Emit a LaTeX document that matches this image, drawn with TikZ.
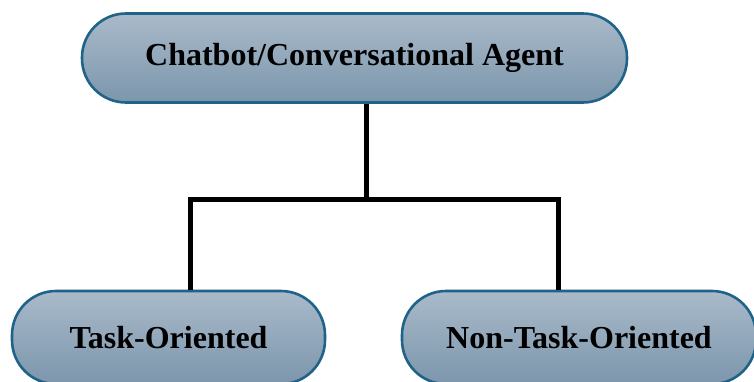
\documentclass[tikz,border=0pt]{standalone}
\usepackage{fontspec}
\setmainfont{Liberation Serif}
\begin{document}
\begin{tikzpicture}[x=1pt,y=-1pt,
  pill/.style={draw=pillborder, line width=2.6pt, rounded corners=44pt,
    top color=pilltop, bottom color=pillbottom,
    minimum height=89pt, inner sep=0pt,
    font=\fontsize{32}{38}\selectfont\bfseries, text=black},
  link/.style={line width=5pt, draw=black, line join=miter}]
\definecolor{pillborder}{HTML}{1F6488}
\definecolor{pilltop}{HTML}{A9BACA}
\definecolor{pillbottom}{HTML}{7C96AC}
\useasboundingbox (0,0) rectangle (754,381);

% category boxes
\node[pill, minimum width=545pt] (root) at (354.5,58) {Chatbot/Conversational Agent};
\node[pill, minimum width=313pt, minimum height=93pt] (task) at (168.5,337.5) {Task-Oriented};
\node[pill, minimum width=354pt, minimum height=93pt] (nontask) at (579,337.5) {Non-Task-Oriented};

% branching connector
\coordinate (fork) at (366.5,199);
\coordinate (forkL) at (190,199);
\coordinate (forkR) at (558,199);
\draw[link] (root.south -| fork) -- (fork);
\draw[link] (task.north -| forkL) -- (forkL) -- (forkR) -- (nontask.north -| forkR);
\end{tikzpicture}
\end{document}
